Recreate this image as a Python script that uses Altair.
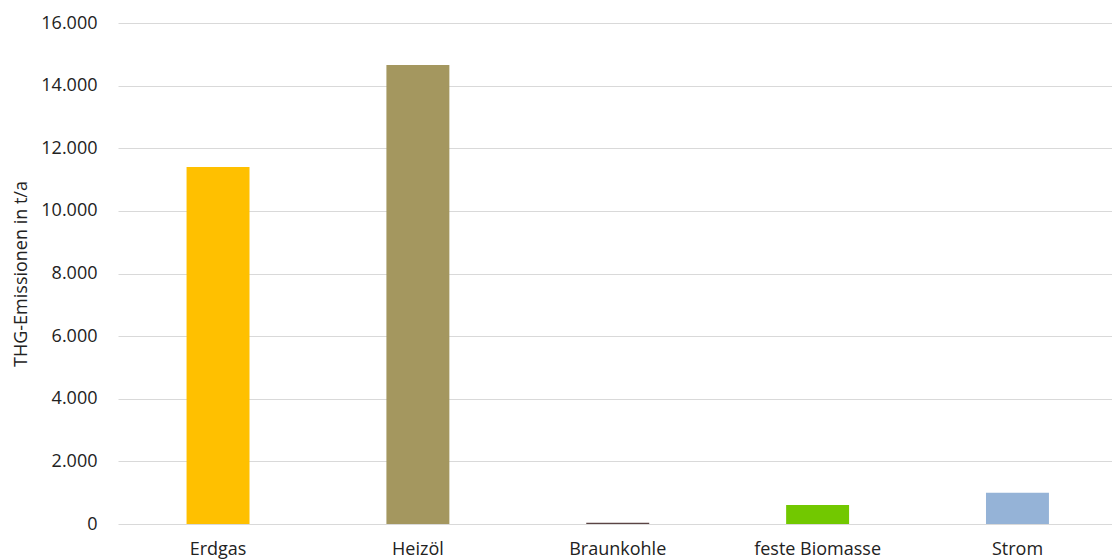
import altair as alt
import pandas as pd

categories = ["Erdgas", "Heizöl", "Braunkohle", "feste Biomasse", "Strom"]
values = [11400, 14660, 40, 610, 1000]
colors = ["#FFC000", "#A4975F", "#5B4444", "#72C800", "#95B3D7"]
y_ticks = [0, 2000, 4000, 6000, 8000, 10000, 12000, 14000, 16000]

df = pd.DataFrame({"Energieträger": categories, "Wert": values, "Farbe": colors})

font = "Open Sans"

chart = alt.Chart(df).mark_bar().encode(
    x=alt.X("Energieträger:N", sort=categories,
            scale=alt.Scale(paddingInner=0.685, paddingOuter=0.343, range=[0, 999.5]),
            axis=alt.Axis(title=None, labelAngle=0, labelFontSize=18, labelColor="#222222",
                          labelFont=font, ticks=False, domain=False, labelPadding=16)),
    y=alt.Y("Wert:Q", scale=alt.Scale(domain=[0, 16000], nice=False),
            axis=alt.Axis(title="THG-Emissionen in t/a", values=y_ticks,
                          labelExpr="replace(format(datum.value, ','), ',', '.')",
                          labelFontSize=18, labelColor="#222222", labelFont=font,
                          titleFontSize=18, titleFont=font, titleFontWeight="normal",
                          titleColor="#222222", titlePadding=10, labelPadding=21,
                          ticks=False, domain=False, gridColor="#D9D9D9", gridWidth=1.2)),
    color=alt.Color("Farbe:N", scale=None),
).properties(
    width=994, height=501,
    padding={"left": 118, "top": 23, "right": 0, "bottom": 36},
    autosize=alt.AutoSizeParams(type="none"),
).configure_view(stroke=None)

chart.save("out.html", embed_options={"renderer": "svg", "actions": False})
